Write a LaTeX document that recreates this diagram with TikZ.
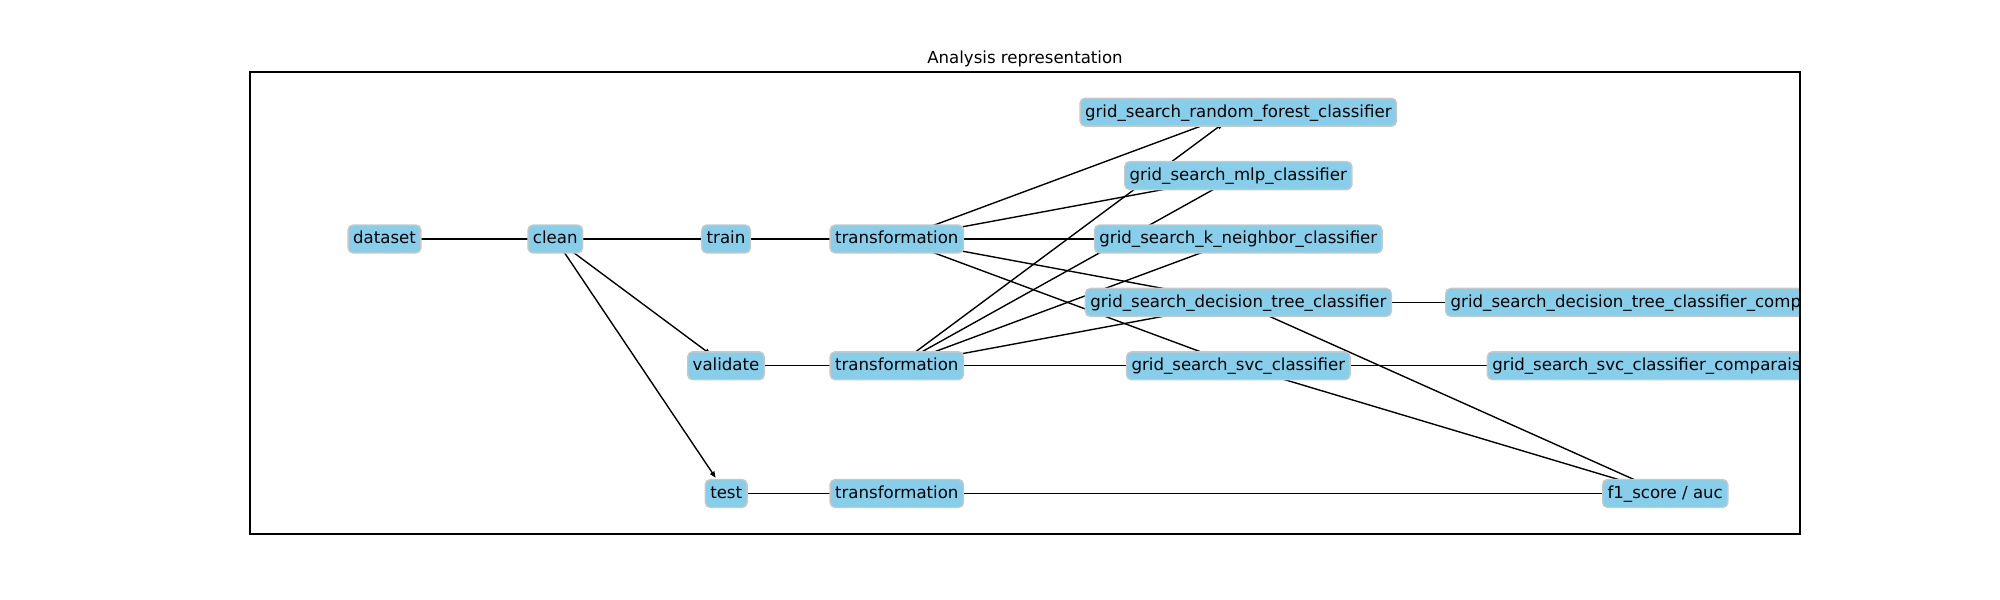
\documentclass[tikz,border=0pt]{standalone}
\usepackage{fontspec}
\setmainfont{DejaVu Sans}
\usetikzlibrary{arrows.meta,backgrounds}
\definecolor{skyblue}{HTML}{87CEEB}
\definecolor{boxedge}{HTML}{C8C8C8}
\begin{document}
\begin{tikzpicture}[x=1in,y=1in,every node/.style={font=\fontsize{12pt}{14pt}\selectfont},
  box/.style={fill=skyblue,draw=boxedge,line width=1pt,rounded corners=3.6pt,inner xsep=3.6pt,inner ysep=3.6pt,text height=10pt,text depth=3pt},
  link/.style={line width=1pt,shorten >=0.19in,-{Triangle[length=4.5pt,width=3.6pt]}}]
\useasboundingbox (0,0) rectangle (20,6);
\coordinate (axSW) at (2.5,0.66);
\coordinate (axNE) at (18,5.28);
\node[anchor=base] (title) at (10.25,5.36) {Analysis representation};
\begin{scope}
\clip (axSW) rectangle (axNE);
\node[box] (dataset) at (3.845,3.61) {dataset};
\node[box] (clean) at (5.553,3.61) {clean};
\node[box] (train) at (7.26,3.61) {train};
\node[box] (validate) at (7.26,2.342) {validate};
\node[box] (test) at (7.262,1.065) {test};
\node[box] (trainT) at (8.968,3.61) {transformation};
\node[box] (validT) at (8.968,2.342) {transformation};
\node[box] (testT) at (8.968,1.065) {transformation};
\node[box] (rf) at (12.383,4.878) {grid\_search\_random\_forest\_classifier};
\node[box] (mlp) at (12.383,4.244) {grid\_search\_mlp\_classifier};
\node[box] (knn) at (12.383,3.61) {grid\_search\_k\_neighbor\_classifier};
\node[box] (dtree) at (12.383,2.976) {grid\_search\_decision\_tree\_classifier};
\node[box] (svc) at (12.383,2.342) {grid\_search\_svc\_classifier};
\node[box,anchor=west] (dtreeC) at (14.45,2.976) {grid\_search\_decision\_tree\_classifier\_comparaison};
\node[box,anchor=west] (svcC) at (14.867,2.342) {grid\_search\_svc\_classifier\_comparaison};
\node[box] (score) at (16.652,1.065) {f1\_score / auc};
\end{scope}
\draw[line width=0.8pt] (axSW) rectangle (axNE);
\begin{pgfonlayer}{background}
\draw[link] (dataset.center) -- (clean.center);
\draw[link] (clean.center) -- (train.center);
\draw[link] (clean.center) -- (validate.center);
\draw[link] (clean.center) -- (test.center);
\draw[link] (train.center) -- (trainT.center);
\draw[link] (validate.center) -- (validT.center);
\draw[link] (test.center) -- (testT.center);
\draw[link] (trainT.center) -- (rf.center);
\draw[link] (trainT.center) -- (mlp.center);
\draw[link] (trainT.center) -- (knn.center);
\draw[link] (trainT.center) -- (dtree.center);
\draw[link] (trainT.center) -- (svc.center);
\draw[link] (validT.center) -- (rf.center);
\draw[link] (validT.center) -- (mlp.center);
\draw[link] (validT.center) -- (knn.center);
\draw[link] (validT.center) -- (dtree.center);
\draw[link] (validT.center) -- (svc.center);
\draw[link] (dtree.center) -- (dtreeC.center);
\draw[link] (svc.center) -- (svcC.center);
\draw[link] (dtree.center) -- (score.center);
\draw[link] (svc.center) -- (score.center);
\draw[link] (testT.center) -- (score.center);
\end{pgfonlayer}
\end{tikzpicture}
\end{document}
